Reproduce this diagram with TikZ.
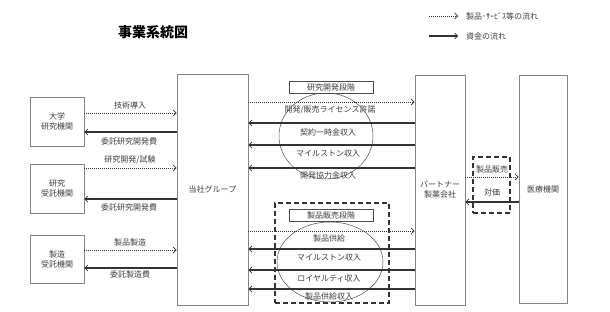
\documentclass[tikz,border=0pt]{standalone}
\usepackage{fontspec}
\setmainfont{Noto Sans CJK JP}
\usetikzlibrary{positioning,arrows.meta,shapes.geometric}
\definecolor{bxgray}{HTML}{858585}
\definecolor{lngray}{HTML}{333333}
\definecolor{txgray}{HTML}{3C3C3C}

\begin{document}
\begin{tikzpicture}[
      x=1pt, y=-1pt,
      font=\fontsize{8}{10}\selectfont, text=txgray,
      ent/.style={draw=bxgray, line width=0.8pt, align=center, inner sep=1pt},
      phase/.style={draw=black!70, line width=0.6pt, fill=white,
                    minimum width=84pt, minimum height=12pt, inner sep=0pt},
      ring/.style={draw=black!70, line width=0.5pt, ellipse, inner sep=0pt},
      dbox/.style={draw=lngray, line width=1.4pt, dash pattern=on 5pt off 3pt,
                   inner sep=0pt},
      lbl/.style={inner sep=1pt},
      goods/.style={-{Straight Barb[length=3pt,width=6pt,line width=0.7pt]},
                    line width=0.8pt, draw=lngray, dash pattern=on 1pt off 1pt},
      money/.style={-{Straight Barb[length=3pt,width=6pt,line width=0.7pt]},
                    line width=1.4pt, draw=lngray}
    ]
    \useasboundingbox (0,0) rectangle (610,312);

    % title and legend
    \node[font=\fontsize{14}{16}\selectfont\bfseries, text=black] (title) at (153,32) {事業系統図};
    \coordinate (lgA) at (429,16);
    \coordinate (lgB) at (429,36);
    \node[lbl, anchor=west] (lgtxtA) at (465,16) {製品･ｻｰﾋﾞｽ等の流れ};
    \node[lbl, anchor=west] (lgtxtB) at (465,36) {資金の流れ};
    \draw[goods, shorten >=7pt] (lgA) -- (lgtxtA.west);
    \draw[money, line width=1.2pt, shorten >=7pt] (lgB) -- (lgtxtB.west);

    % outside parties
    \node[ent, minimum width=54pt, minimum height=49pt] (uni) at (57,121.5) {大学\\研究機関};
    \node[ent, minimum width=54pt, minimum height=49pt] (cro) at (57,188.5) {研究\\受託機関};
    \node[ent, minimum width=54pt, minimum height=48pt] (cmo) at (57,259) {製造\\受託機関};
    \node[ent, minimum width=71pt, minimum height=231pt] (grp) at (212.5,189.5) {当社グループ};
    \node[ent, minimum width=50pt, minimum height=230pt] (ptn) at (440,190) {パートナー\\製薬会社};
    \node[ent, minimum width=48pt, minimum height=228pt] (med) at (543,189) {医療機関};

    % left side flows
    \foreach \n/\y in {r1/113, r2/132, r3/168, r4/199, r5/250, r6/268}
      \coordinate (\n) at (0,\y);
    \draw[goods] (uni.east |- r1) -- (grp.west |- r1);
    \draw[money] (grp.west |- r2) -- (uni.east |- r2);
    \draw[goods] (cro.east |- r3) -- (grp.west |- r3);
    \draw[money] (grp.west |- r4) -- (cro.east |- r4);
    \draw[goods] (cmo.east |- r5) -- (grp.west |- r5);
    \draw[money] (grp.west |- r6) -- (cmo.east |- r6);
    \node[lbl] (l1) at (130,105) {技術導入};
    \node[lbl] (l2) at (129,141.5) {委託研究開発費};
    \node[lbl] (l3) at (130,160) {研究開発/試験};
    \node[lbl] (l4) at (129,207) {委託研究開発費};
    \node[lbl] (l5) at (130,242) {製品製造};
    \node[lbl] (l6) at (130,274) {委託製造費};

    % development stage
    \node[ring, minimum width=94pt, minimum height=86pt] (ringA) at (326,136) {};
    \node[phase] (devph) at (331,87) {研究開発段階};
    \foreach \n/\y in {m1/102, m2/123, m3/145, m4/168}
      \coordinate (\n) at (0,\y);
    \draw[goods] (grp.east |- m1) -- (ptn.west |- m1);
    \draw[money] (ptn.west |- m2) -- (grp.east |- m2);
    \draw[money] (ptn.west |- m3) -- (grp.east |- m3);
    \draw[money] (ptn.west |- m4) -- (grp.east |- m4);
    \node[lbl] (d1) at (330,109.5) {開発/販売ライセンス許諾};
    \node[lbl] (d2) at (328,132) {契約一時金収入};
    \node[lbl] (d3) at (328,153) {マイルストン収入};
    \node[lbl] (d4) at (328,175.5) {開発協力金収入};

    % sales stage
    \node[dbox, minimum width=114pt, minimum height=100pt] (salesfr) at (332,253) {};
    \node[ring, minimum width=106pt, minimum height=80pt] (ringB) at (330,262) {};
    \node[phase] (salph) at (331,215) {製品販売段階};
    \foreach \n/\y in {m5/231, m6/249, m7/270, m8/289}
      \coordinate (\n) at (0,\y);
    \draw[goods] (grp.east |- m5) -- (ptn.west |- m5);
    \draw[money] (ptn.west |- m6) -- (grp.east |- m6);
    \draw[money] (ptn.west |- m7) -- (grp.east |- m7);
    \draw[money] (ptn.west |- m8) -- (grp.east |- m8);
    \node[lbl] (s1) at (329,238.5) {製品供給};
    \node[lbl] (s2) at (329,257) {マイルストン収入};
    \node[lbl] (s3) at (329,278) {ロイヤルティ収入};
    \node[lbl] (s4) at (329,296.5) {製品供給収入};

    % partner to hospitals
    \node[dbox, minimum width=37pt, minimum height=56pt] (mktfr) at (491.5,185) {};
    \coordinate (h1) at (0,177);
    \coordinate (h2) at (0,202);
    \draw[goods] (ptn.east |- h1) -- (med.west |- h1);
    \draw[money] (med.west |- h2) -- (ptn.east |- h2);
    \node[lbl] (p1) at (492,169.5) {製品販売};
    \node[lbl] (p2) at (492,192) {対価};
  \end{tikzpicture}
\end{document}
